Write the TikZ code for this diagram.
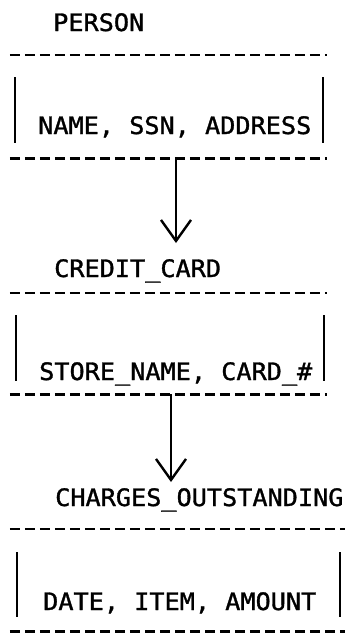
\documentclass[tikz,border=0pt]{standalone}
\usepackage{fontspec}
\setmonofont[FakeStretch=1.05,FakeBold=1.3]{DejaVu Sans Mono}
\usetikzlibrary{arrows.meta}

\begin{document}
\begin{tikzpicture}[x=1pt,y=-1pt,
  label/.style={font=\ttfamily\fontsize{24}{24}\selectfont, anchor=base west, inner sep=0pt},
  entity/.style={inner sep=0pt, draw=none},
  rule/.style={line width=2.6pt, dash pattern=on 10pt off 5pt},
  bar/.style={line width=2.8pt},
  flow/.style={line width=2.4pt, -{Straight Barb[length=21pt,width=30pt,line width=2.4pt]}}
]
\fill[white] (0,0) rectangle (348,633);
\useasboundingbox (0,0) rectangle (348,633);

% PERSON
\node[label] (t1) at (53,31) {PERSON};
\node[entity, minimum width=317pt, minimum height=103pt] (b1) at (168.5,106.5) {};
\draw[rule] (b1.north west) -- (b1.north east);
\draw[rule] (b1.south west) -- (b1.south east);
\draw[bar] (15,77) -- (15,143);
\draw[bar] (323,77) -- (323,143);
\node[label] (f1) at (38,134) {NAME, SSN, ADDRESS};

% CREDIT_CARD
\node[label] (t2) at (54,277) {CREDIT\_CARD};
\node[entity, minimum width=317pt, minimum height=101pt] (b2) at (168.5,343.5) {};
\draw[rule] (b2.north west) -- (b2.north east);
\draw[rule] (b2.south west) -- (b2.south east);
\draw[bar] (16,315) -- (16,381);
\draw[bar] (324,315) -- (324,381);
\node[label] (f2) at (39,380) {STORE\_NAME, CARD\_\#};

% CHARGES_OUTSTANDING
\node[label] (t3) at (55,506) {CHARGES\_OUTSTANDING};
\node[entity, minimum width=335pt, minimum height=102pt] (b3) at (177.5,580) {};
\draw[rule] (b3.north west) -- (b3.north east);
\draw[rule] (b3.south west) -- (b3.south east);
\draw[bar] (17,552) -- (17,617);
\draw[bar] (340,552) -- (340,617);
\node[label] (f3) at (43,610) {DATE, ITEM, AMOUNT};

% links between the entities
\coordinate (a1) at (176,243);
\coordinate (a2) at (171,482);
\draw[flow] (b1.south -| a1) -- (a1);
\draw[flow] (b2.south -| a2) -- (a2);
\end{tikzpicture}
\end{document}
